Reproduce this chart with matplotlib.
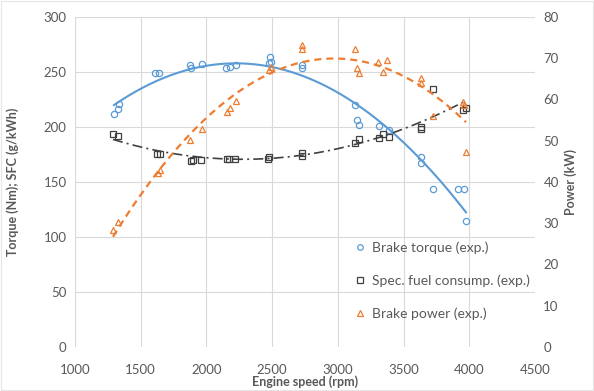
import numpy as np
import matplotlib
matplotlib.use("Agg")
import matplotlib.pyplot as plt
from matplotlib.lines import Line2D
from matplotlib.patches import Rectangle

plt.rcParams['font.family'] = ['Lato', 'DejaVu Sans']

# ---- data ----
torque_rpm = [1297, 1327, 1335, 1609, 1639, 1875, 1883, 1966, 2149, 2180, 2225,
              2476, 2484, 2491, 2727, 2727, 3130, 3146, 3161, 3313, 3389,
              3633, 3633, 3724, 3914, 3960, 3975]
torque_val = [212, 216, 221, 249, 249, 256, 254, 257, 254, 255, 256,
              258, 264, 259, 256, 254, 220, 206, 202, 201, 197,
              173, 167, 144, 144, 144, 115]

sfc_rpm = [1289, 1327, 1624, 1647, 1883, 1898, 1959, 2157, 2172, 2217,
           2469, 2476, 2727, 2727, 3130, 3161, 3313, 3344, 3389,
           3633, 3633, 3724, 3952, 3975]
sfc_val = [194, 192, 175, 175, 169, 170, 170, 171, 171, 171,
           171, 173, 174, 176, 185, 189, 190, 194, 191,
           200, 198, 235, 215, 217]

power_rpm = [1289, 1327, 1632, 1647, 1875, 1966, 2157, 2180, 2225,
             2476, 2491, 2727, 2727, 3130, 3146, 3161, 3305, 3343, 3374,
             3633, 3633, 3724, 3952, 3960, 3975]
power_val = [28.4, 30.3, 42.2, 42.9, 50.2, 52.8, 57.0, 57.9, 59.6,
             67.1, 67.9, 73.2, 72.2, 72.2, 67.6, 66.4, 69.1, 66.7, 69.6,
             65.2, 64.0, 56.0, 59.4, 58.7, 47.3]

x_ticks = [1000, 1500, 2000, 2500, 3000, 3500, 4000, 4500]
left_ticks = [0, 50, 100, 150, 200, 250, 300]
right_ticks = [0, 10, 20, 30, 40, 50, 60, 70, 80]

labels = ["Brake torque (exp.)", "Spec. fuel consump. (exp.)", "Brake power (exp.)"]

# ---- colours ----
c_blue = "#5B9BD5"
c_black = "#404040"
c_orange = "#ED7D31"
c_text = "#595959"
c_grid = "#D9D9D9"

fig = plt.figure(figsize=(5.94, 3.91), dpi=100)
ax = fig.add_axes([75/594, 1-347/391, 460/594, 330/391])
ax2 = ax.twinx()

def trend(xs, ys, deg):
    xs = np.asarray(xs, float); ys = np.asarray(ys, float)
    p = np.polyfit(xs, ys, deg)
    xx = np.linspace(xs.min(), xs.max(), 200)
    return xx, np.polyval(p, xx)

# trendlines
xx, yy = trend(torque_rpm, torque_val, 2)
ax.plot(xx, yy, color=c_blue, lw=1.5, zorder=3)
xx, yy = trend(sfc_rpm, sfc_val, 2)
ax.plot(xx, yy, color=c_black, lw=1.2, dashes=(6, 2.5, 1.2, 2.5), zorder=3)
xx, yy = trend(power_rpm, power_val, 2)
ax2.plot(xx, yy, color=c_orange, lw=1.6, dashes=(3.2, 2.2), zorder=3)

ms = 4.5
ax.plot(torque_rpm, torque_val, 'o', ms=ms, mfc='none', mec=c_blue, mew=0.9, zorder=4)
ax.plot(sfc_rpm, sfc_val, 's', ms=ms, mfc='none', mec=c_black, mew=0.9, zorder=4)
ax2.plot(power_rpm, power_val, '^', ms=ms, mfc='none', mec=c_orange, mew=0.9, zorder=4)

ax.set_xlim(1000, 4500)
ax.set_ylim(0, 300)
ax2.set_ylim(0, 80)
ax.set_xticks(x_ticks)
ax.set_yticks(left_ticks)
ax2.set_yticks(right_ticks)

for a in (ax, ax2):
    for s in a.spines.values():
        s.set_visible(False)
    a.tick_params(length=0, labelsize=9.5, labelcolor=c_text)
ax.tick_params(axis='x', pad=12)
ax.tick_params(axis='y', pad=6)
ax2.tick_params(axis='y', pad=6)

# gridlines (no line at 0)
for v in x_ticks[:-1]:
    ax.plot([v, v], [0, 300], color=c_grid, lw=0.8, zorder=0.5)
for v in left_ticks[1:]:
    ax.plot([1000, 4500], [v, v], color=c_grid, lw=0.8, zorder=0.5)

lab_font = dict(fontsize=9, fontweight='bold', color=c_text)
ax.set_xlabel("Engine speed (rpm)", labelpad=0, **lab_font)
ax.set_ylabel("Torque (Nm); SFC (g/kWh)", labelpad=18, **lab_font)
ax2.set_ylabel("Power (kW)", labelpad=4, **lab_font)

handles = [
    Line2D([], [], ls='none', marker='o', ms=4, mfc='none', mec=c_blue, mew=0.9),
    Line2D([], [], ls='none', marker='s', ms=4, mfc='none', mec=c_black, mew=0.9),
    Line2D([], [], ls='none', marker='^', ms=4, mfc='none', mec=c_orange, mew=0.9),
]
leg = ax2.legend(handles, labels, loc='upper left', bbox_to_anchor=(0.592, 0.338),
                 frameon=False, fontsize=10, labelspacing=1.5, handlelength=1.0,
                 handletextpad=0.4, borderaxespad=0)
for t in leg.get_texts():
    t.set_color(c_text)

fig.patches.append(Rectangle((0.002, 0.002), 0.996, 0.996, transform=fig.transFigure,
                             fill=False, ec="#E6E6E6", lw=0.8))

fig.savefig("out.png", dpi=100)
